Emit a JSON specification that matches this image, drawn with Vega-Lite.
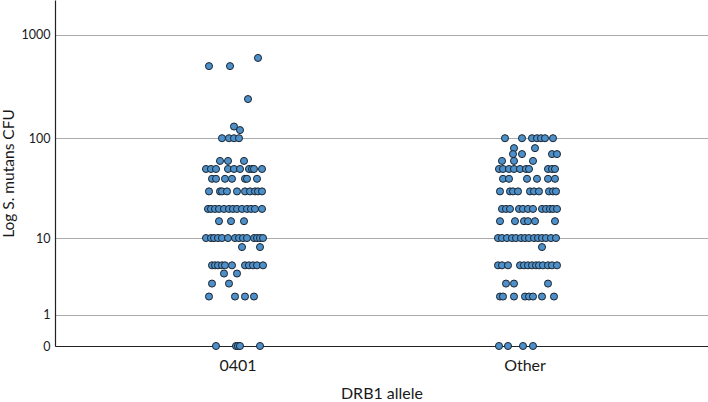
{
  "$schema": "https://vega.github.io/schema/vega-lite/v6.json",
  "width": 653,
  "height": 346,
  "autosize": "none",
  "padding": {"left": 55, "top": 0, "right": 0, "bottom": 56},
  "background": "white",
  "config": {
    "view": {"stroke": null},
    "font": "Lato",
    "axis": {"labelFont": "Lato", "titleFont": "Lato", "labelColor": "#1a1a1a", "titleColor": "#1a1a1a", "titleFontWeight": "normal"}
  },
  "datasets": {
    "pts": [
      {"g":"0401","v":600,"j":20},
      {"g":"0401","v":500,"j":-29},{"g":"0401","v":500,"j":-8},
      {"g":"0401","v":240,"j":10},
      {"g":"0401","v":130,"j":-4},
      {"g":"0401","v":120,"j":2},
      {"g":"0401","v":100,"j":-16},{"g":"0401","v":100,"j":-9},{"g":"0401","v":100,"j":-4},{"g":"0401","v":100,"j":1},
      {"g":"0401","v":60,"j":-18},{"g":"0401","v":60,"j":-10},{"g":"0401","v":60,"j":6},
      {"g":"0401","v":50,"j":-32},{"g":"0401","v":50,"j":-27},{"g":"0401","v":50,"j":-22},{"g":"0401","v":50,"j":-10},{"g":"0401","v":50,"j":-4},{"g":"0401","v":50,"j":2},{"g":"0401","v":50,"j":11},{"g":"0401","v":50,"j":14},{"g":"0401","v":50,"j":16},{"g":"0401","v":50,"j":24},
      {"g":"0401","v":40,"j":-26},{"g":"0401","v":40,"j":-22},{"g":"0401","v":40,"j":-13},{"g":"0401","v":40,"j":-6},{"g":"0401","v":40,"j":7},{"g":"0401","v":40,"j":9},{"g":"0401","v":40,"j":19},
      {"g":"0401","v":30,"j":-29},{"g":"0401","v":30,"j":-18},{"g":"0401","v":30,"j":-16},{"g":"0401","v":30,"j":-11},{"g":"0401","v":30,"j":-1},{"g":"0401","v":30,"j":7},{"g":"0401","v":30,"j":12},{"g":"0401","v":30,"j":17},{"g":"0401","v":30,"j":20},{"g":"0401","v":30,"j":24},
      {"g":"0401","v":20,"j":-30},{"g":"0401","v":20,"j":-27},{"g":"0401","v":20,"j":-23},{"g":"0401","v":20,"j":-19},{"g":"0401","v":20,"j":-14},{"g":"0401","v":20,"j":-9},{"g":"0401","v":20,"j":-5},{"g":"0401","v":20,"j":-1},{"g":"0401","v":20,"j":4},{"g":"0401","v":20,"j":9},{"g":"0401","v":20,"j":13},{"g":"0401","v":20,"j":17},{"g":"0401","v":20,"j":24},
      {"g":"0401","v":15,"j":-19},{"g":"0401","v":15,"j":-7},{"g":"0401","v":15,"j":6},
      {"g":"0401","v":10,"j":-32},{"g":"0401","v":10,"j":-27},{"g":"0401","v":10,"j":-24},{"g":"0401","v":10,"j":-20},{"g":"0401","v":10,"j":-16},{"g":"0401","v":10,"j":-10},{"g":"0401","v":10,"j":-3},{"g":"0401","v":10,"j":1},{"g":"0401","v":10,"j":5},{"g":"0401","v":10,"j":9},{"g":"0401","v":10,"j":16},{"g":"0401","v":10,"j":19},{"g":"0401","v":10,"j":22},{"g":"0401","v":10,"j":25},
      {"g":"0401","v":8,"j":4},{"g":"0401","v":8,"j":22},
      {"g":"0401","v":5,"j":-26},{"g":"0401","v":5,"j":-23},{"g":"0401","v":5,"j":-20},{"g":"0401","v":5,"j":-16},{"g":"0401","v":5,"j":-13},{"g":"0401","v":5,"j":-6},{"g":"0401","v":5,"j":7},{"g":"0401","v":5,"j":11},{"g":"0401","v":5,"j":15},{"g":"0401","v":5,"j":19},{"g":"0401","v":5,"j":25},
      {"g":"0401","v":4,"j":-14},{"g":"0401","v":4,"j":-1},
      {"g":"0401","v":3,"j":-26},{"g":"0401","v":3,"j":-9},
      {"g":"0401","v":2,"j":-29},{"g":"0401","v":2,"j":-3},{"g":"0401","v":2,"j":7},{"g":"0401","v":2,"j":16},
      {"g":"0401","v":0,"j":-22},{"g":"0401","v":0,"j":-2},{"g":"0401","v":0,"j":0},{"g":"0401","v":0,"j":2},{"g":"0401","v":0,"j":22},
      {"g":"Other","v":100,"j":-20},{"g":"Other","v":100,"j":-3},{"g":"Other","v":100,"j":7},{"g":"Other","v":100,"j":12},{"g":"Other","v":100,"j":16},{"g":"Other","v":100,"j":20},{"g":"Other","v":100,"j":28},
      {"g":"Other","v":80,"j":-11},{"g":"Other","v":80,"j":10},
      {"g":"Other","v":70,"j":-12},{"g":"Other","v":70,"j":-3},{"g":"Other","v":70,"j":27},{"g":"Other","v":70,"j":32},
      {"g":"Other","v":60,"j":-23},{"g":"Other","v":60,"j":-11},{"g":"Other","v":60,"j":8},
      {"g":"Other","v":50,"j":-26},{"g":"Other","v":50,"j":-22},{"g":"Other","v":50,"j":-16},{"g":"Other","v":50,"j":-11},{"g":"Other","v":50,"j":-5},{"g":"Other","v":50,"j":1},{"g":"Other","v":50,"j":4},{"g":"Other","v":50,"j":23},{"g":"Other","v":50,"j":27},{"g":"Other","v":50,"j":30},
      {"g":"Other","v":40,"j":-22},{"g":"Other","v":40,"j":-16},{"g":"Other","v":40,"j":2},{"g":"Other","v":40,"j":12},{"g":"Other","v":40,"j":23},{"g":"Other","v":40,"j":30},
      {"g":"Other","v":30,"j":-25},{"g":"Other","v":30,"j":-15},{"g":"Other","v":30,"j":-12},{"g":"Other","v":30,"j":-7},{"g":"Other","v":30,"j":5},{"g":"Other","v":30,"j":9},{"g":"Other","v":30,"j":14},{"g":"Other","v":30,"j":24},{"g":"Other","v":30,"j":28},{"g":"Other","v":30,"j":31},
      {"g":"Other","v":20,"j":-23},{"g":"Other","v":20,"j":-19},{"g":"Other","v":20,"j":-15},{"g":"Other","v":20,"j":-6},{"g":"Other","v":20,"j":-2},{"g":"Other","v":20,"j":3},{"g":"Other","v":20,"j":8},{"g":"Other","v":20,"j":17},{"g":"Other","v":20,"j":21},{"g":"Other","v":20,"j":25},{"g":"Other","v":20,"j":28},{"g":"Other","v":20,"j":32},
      {"g":"Other","v":15,"j":-25},{"g":"Other","v":15,"j":-10},{"g":"Other","v":15,"j":-1},{"g":"Other","v":15,"j":3},{"g":"Other","v":15,"j":10},{"g":"Other","v":15,"j":30},
      {"g":"Other","v":10,"j":-27},{"g":"Other","v":10,"j":-23},{"g":"Other","v":10,"j":-18},{"g":"Other","v":10,"j":-13},{"g":"Other","v":10,"j":-9},{"g":"Other","v":10,"j":-4},{"g":"Other","v":10,"j":0},{"g":"Other","v":10,"j":4},{"g":"Other","v":10,"j":9},{"g":"Other","v":10,"j":13},{"g":"Other","v":10,"j":17},{"g":"Other","v":10,"j":21},{"g":"Other","v":10,"j":26},{"g":"Other","v":10,"j":31},
      {"g":"Other","v":8,"j":17},
      {"g":"Other","v":5,"j":-27},{"g":"Other","v":5,"j":-23},{"g":"Other","v":5,"j":-17},{"g":"Other","v":5,"j":-5},{"g":"Other","v":5,"j":-1},{"g":"Other","v":5,"j":3},{"g":"Other","v":5,"j":7},{"g":"Other","v":5,"j":11},{"g":"Other","v":5,"j":14},{"g":"Other","v":5,"j":18},{"g":"Other","v":5,"j":23},{"g":"Other","v":5,"j":27},{"g":"Other","v":5,"j":32},
      {"g":"Other","v":3,"j":-19},{"g":"Other","v":3,"j":-11},{"g":"Other","v":3,"j":23},
      {"g":"Other","v":2,"j":-25},{"g":"Other","v":2,"j":-22},{"g":"Other","v":2,"j":-11},{"g":"Other","v":2,"j":0},{"g":"Other","v":2,"j":4},{"g":"Other","v":2,"j":8},{"g":"Other","v":2,"j":17},{"g":"Other","v":2,"j":29},
      {"g":"Other","v":0,"j":-26},{"g":"Other","v":0,"j":-17},{"g":"Other","v":0,"j":-2},{"g":"Other","v":0,"j":8}
    ]
  },
  "data": {"name": "pts"},
  "mark": {"type": "point", "shape": "circle", "filled": true, "size": 50, "fill": "#4d8fc8", "stroke": "#1b2530", "strokeWidth": 1, "opacity": 1, "clip": false},
  "encoding": {
    "x": {
      "field": "g", "type": "nominal",
      "scale": {"type": "band", "domain": ["0401", "Other"], "paddingInner": 0.7491, "paddingOuter": 0.5122},
      "axis": {"title": "DRB1 allele", "labelAngle": 0, "labelFontSize": 16, "titleFontSize": 16, "ticks": false, "labelPadding": 11, "titlePadding": 12, "domainColor": "#222222", "domainWidth": 1.2, "grid": false}
    },
    "xOffset": {"field": "j", "type": "quantitative", "scale": {"domain": [-36, 36]}},
    "y": {
      "field": "v", "type": "quantitative",
      "scale": {"type": "symlog", "constant": 1, "domain": [0, 2175], "nice": false, "zero": false},
      "axis": {"title": "Log S. mutans CFU", "values": [0, 1, 10, 100, 1000], "format": "d", "labelFontSize": 12.5, "titleFontSize": 15.5, "ticks": false, "labelPadding": 5, "titlePadding": 5, "grid": true, "gridColor": "#ababab", "gridWidth": 1, "domainColor": "#222222", "domainWidth": 1.2}
    }
  }
}
